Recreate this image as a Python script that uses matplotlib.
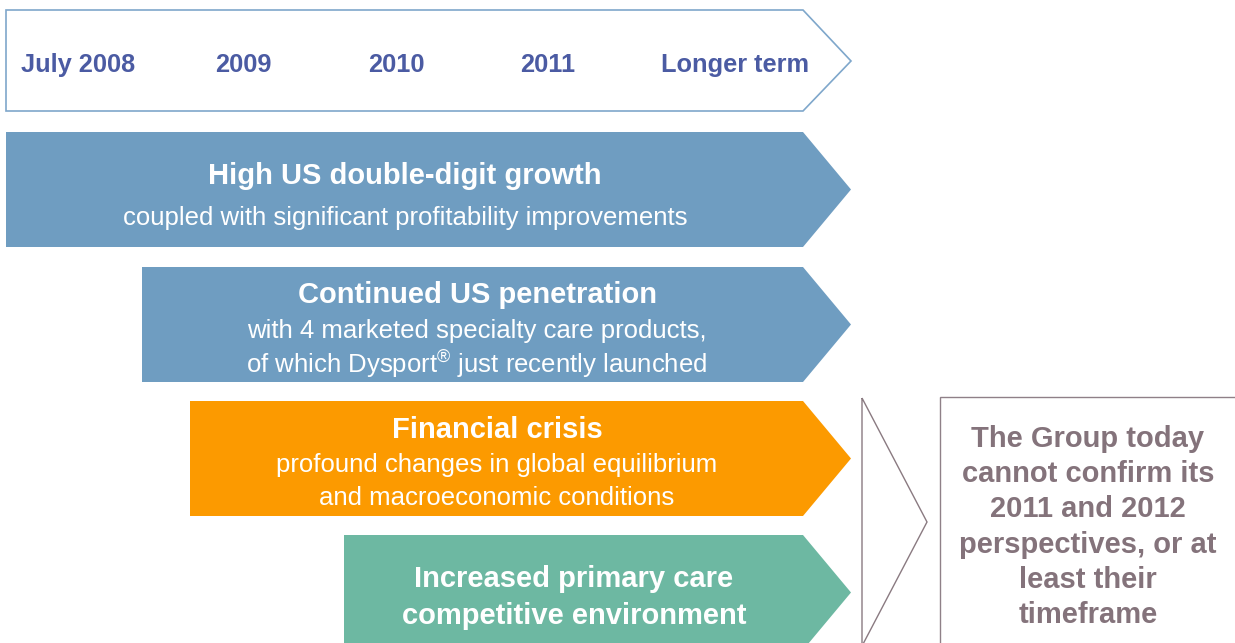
import matplotlib
matplotlib.use("Agg")
import matplotlib.pyplot as plt
from matplotlib.patches import Polygon, Rectangle

plt.rcParams['font.family'] = ['Liberation Sans', 'DejaVu Sans']
plt.rcParams['mathtext.fontset'] = 'custom'
plt.rcParams['mathtext.rm'] = 'Liberation Sans'
plt.rcParams['mathtext.bf'] = 'Liberation Sans:bold'

# timeline labels
periods = ['July 2008', '2009', '2010', '2011', 'Longer term']

# arrows: title lines (bold) and detail lines (regular)
titles = [['High US double-digit growth'],
          ['Continued US penetration'],
          ['Financial crisis'],
          ['Increased primary care', 'competitive environment']]
details = [['coupled with significant profitability improvements'],
           ['with 4 marketed specialty care products,',
            r'of which Dysport$^{\mathrm{®}}$ just recently launched'],
           ['profound changes in global equilibrium',
            'and macroeconomic conditions'],
           []]
colors = ['#6f9dc1', '#6f9dc1', '#fc9a00', '#6db8a2']

conclusion = ['The Group today', 'cannot confirm its', '2011 and 2012',
              'perspectives, or at', 'least their', 'timeframe']

# layout (pixels)
W, H = 1235, 643
period_x = [78, 243, 396, 548, 735]
arrow_left = [6, 142, 190, 344]
arrow_top = [132, 267, 401, 535]
arrow_h = 115
body_r, tip_r = 803, 851
text_x = [405, 477, 497, 574]
title_y = [176, 295, 430, 579]
detail_y = [218, 331, 465, None]
title_gap = 37
detail_gap = 33

fig = plt.figure(figsize=(W / 100, H / 100), dpi=100)
ax = fig.add_axes([0, 0, 1, 1])
ax.set_xlim(0, W)
ax.set_ylim(H, 0)
ax.axis('off')

# timeline
tl = Polygon([(6, 10), (body_r, 10), (tip_r, 61), (body_r, 111), (6, 111)],
             closed=True, facecolor='white', edgecolor='#7fa7cb', lw=1.2)
ax.add_patch(tl)
for x, lab in zip(period_x, periods):
    ax.text(x, 65, lab, ha='center', va='center', fontsize=18.3,
            fontweight='bold', color='#4b5ba3')

# arrows
for i in range(4):
    l, t = arrow_left[i], arrow_top[i]
    b = t + arrow_h
    m = (t + b) / 2
    ax.add_patch(Polygon([(l, t), (body_r, t), (tip_r, m), (body_r, b), (l, b)],
                         closed=True, facecolor=colors[i], edgecolor='none'))
    for k, s in enumerate(titles[i]):
        ax.text(text_x[i], title_y[i] + title_gap * k, s, ha='center',
                va='center', fontsize=21, fontweight='bold', color='white')
    for k, s in enumerate(details[i]):
        ax.text(text_x[i], detail_y[i] + detail_gap * k, s, ha='center',
                va='center', fontsize=18.5, color='white')

# outline chevron and conclusion box
ax.add_patch(Polygon([(862, 398), (927, 522), (862, 646)], closed=True,
                     facecolor='none', edgecolor='#8a7a81', lw=1.0))
ax.add_patch(Rectangle((940, 397), 320, 300, facecolor='white',
                       edgecolor='#8f8088', lw=1.0))
for k, s in enumerate(conclusion):
    ax.text(1088, 439 + 35.2 * k, s, ha='center', va='center', fontsize=21,
            fontweight='bold', color='#84737b')

fig.savefig('out.png', dpi=100)
